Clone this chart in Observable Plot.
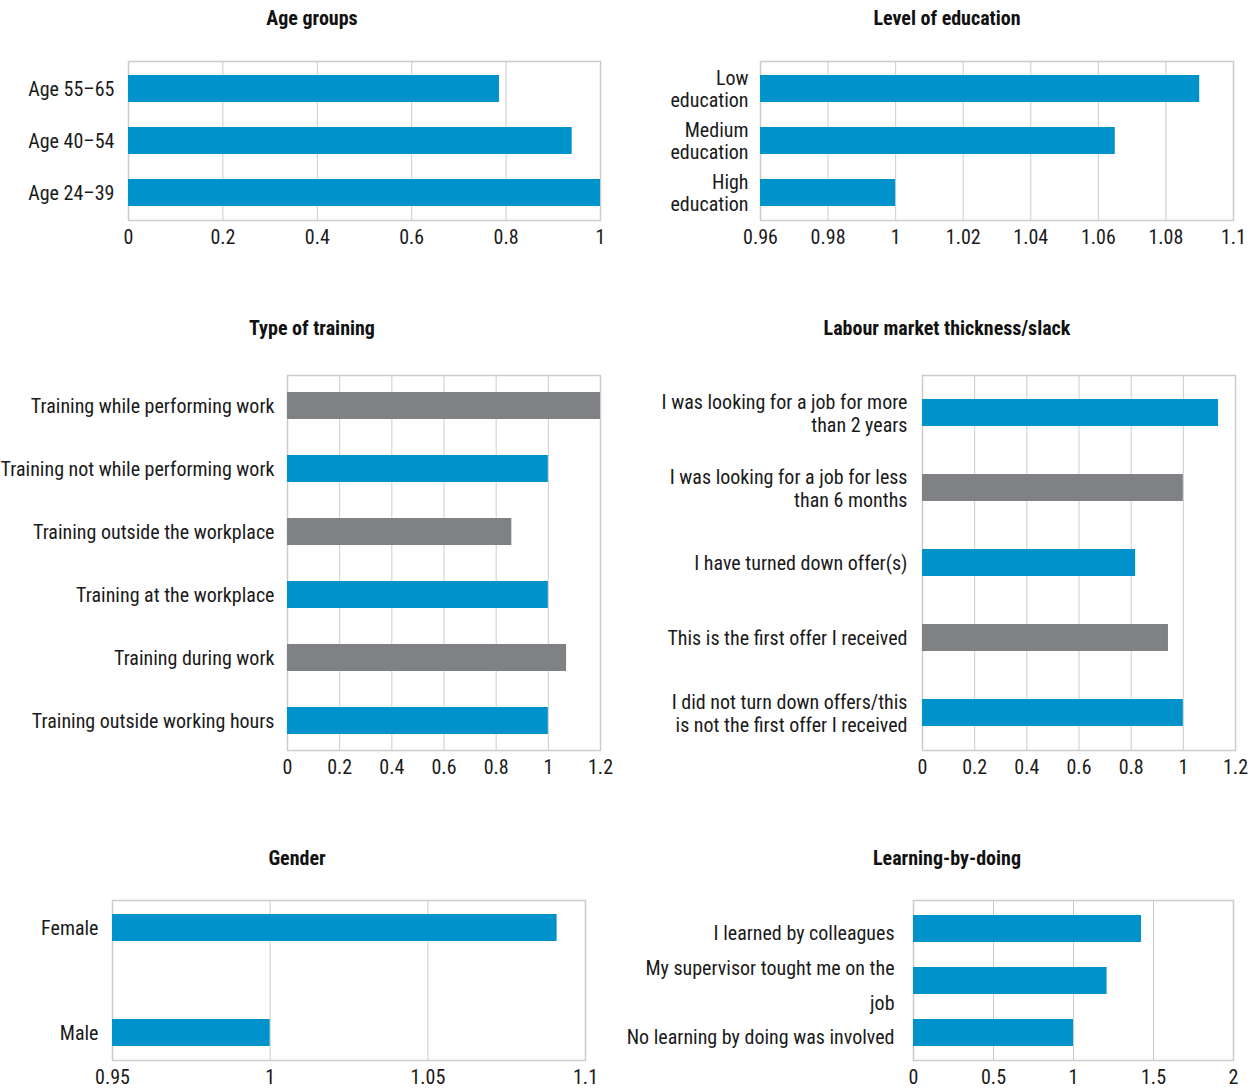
<!DOCTYPE html>
<html><head><meta charset="utf-8">
<script src="https://cdn.jsdelivr.net/npm/d3@7"></script>
<script src="https://cdn.jsdelivr.net/npm/@observablehq/plot@0.6"></script>
<style>
body{margin:0;background:#fff;}
#root{position:relative;width:1260px;height:1088px;overflow:hidden;font-family:'Roboto Condensed',Roboto,sans-serif;font-stretch:condensed;}
.title{position:absolute;font-weight:bold;font-size:20px;line-height:24px;white-space:nowrap;transform:translateX(-50%);color:#111;}
.panel{position:absolute;}
.panel svg{font-stretch:condensed;overflow:visible;}
</style></head><body><div id="root"></div>
<script>
// ---- Data ----
const ageLabels = ["Age 55–65", "Age 40–54", "Age 24–39"];
const ageValues = [0.786, 0.94, 1.0];
const ageTicks = [0, 0.2, 0.4, 0.6, 0.8, 1];

const eduLabels = ["Low\neducation", "Medium\neducation", "High\neducation"];
const eduValues = [1.09, 1.065, 1.0];
const eduTicks = [0.96, 0.98, 1, 1.02, 1.04, 1.06, 1.08, 1.1];

const trainLabels = ["Training while performing work", "Training not while performing work", "Training outside the workplace", "Training at the workplace", "Training during work", "Training outside working hours"];
const trainValues = [1.2, 1.0, 0.86, 1.0, 1.07, 1.0];
const trainTicks = [0, 0.2, 0.4, 0.6, 0.8, 1, 1.2];

const labourLabels = ["I was looking for a job for more\nthan 2 years", "I was looking for a job for less\nthan 6 months", "I have turned down offer(s)", "This is the first offer I received", "I did not turn down offers/this\nis not the first offer I received"];
const labourValues = [1.135, 1.0, 0.817, 0.943, 1.0];
const labourTicks = [0, 0.2, 0.4, 0.6, 0.8, 1, 1.2];

const genderLabels = ["Female", "Male"];
const genderValues = [1.091, 1.0];
const genderTicks = [0.95, 1, 1.05, 1.1];

const learnLabels = ["I learned by colleagues", "My supervisor tought me on the\njob", "No learning by doing was involved"];
const learnValues = [1.425, 1.21, 1.0];
const learnTicks = [0, 0.5, 1, 1.5, 2];

// ---- Styling ----
const BLUE = "#0092CB", GRAY = "#808185", GRID = "#cccccc";
const FONT = "'Roboto Condensed',Roboto,sans-serif";
const root = document.getElementById("root");

function title(text, cx, cy) {
  const d = document.createElement("div");
  d.className = "title"; d.textContent = text;
  d.style.left = cx + "px"; d.style.top = (cy - 12) + "px";
  root.appendChild(d);
}

function panel(o) {
  const [fx0, fx1, fy0, fy1] = o.frame;
  const data = o.labels.map((label, i) => ({label, value: o.values[i], i}));
  const lo = o.ticks[0];
  const chart = Plot.plot({
    width: o.width, height: o.height,
    marginLeft: fx0 - o.left, marginRight: o.left + o.width - fx1,
    marginTop: fy0 - o.top, marginBottom: o.top + o.height - fy1,
    style: {fontFamily: FONT, fontSize: "20px", color: "#1a1a1a", background: "transparent"},
    x: {domain: [o.ticks[0], o.ticks[o.ticks.length - 1]]},
    y: {domain: o.labels, paddingInner: o.pi, paddingOuter: o.po},
    color: {type: "identity"},
    marks: [
      Plot.gridX(o.ticks, {stroke: GRID, strokeOpacity: 1}),
      Plot.frame({stroke: GRID, strokeWidth: 1.5}),
      Plot.barX(data, {y: "label", x1: () => lo, x2: "value", fill: d => o.color(d.i)}),
      Plot.axisX(o.ticks, {tickSize: 0, tickPadding: 9, label: null, tickFormat: d => String(d)}),
      Plot.axisY({tickSize: 0, tickPadding: o.padY, label: null, lineHeight: o.lineHeight || 1.1})
    ]
  });
  const wrap = document.createElement("div");
  wrap.className = "panel";
  wrap.style.left = o.left + "px"; wrap.style.top = o.top + "px";
  wrap.appendChild(chart);
  root.appendChild(wrap);
}

const allBlue = () => BLUE;
const grayFirst = i => i % 2 === 0 ? GRAY : BLUE;
const blueFirst = i => i % 2 === 0 ? BLUE : GRAY;

title("Age groups", 312, 18);
panel({labels: ageLabels, values: ageValues, ticks: ageTicks, left: 0, top: 40, width: 630, height: 220,
  frame: [128, 600, 61, 220], pi: 0.486, po: 0.26, padY: 14, color: allBlue});

title("Level of education", 947, 18);
panel({labels: eduLabels, values: eduValues, ticks: eduTicks, left: 630, top: 40, width: 630, height: 220,
  frame: [760, 1233, 61, 220], pi: 0.486, po: 0.26, padY: 12, lineHeight: 1.08, color: allBlue});

title("Type of training", 312, 328);
panel({labels: trainLabels, values: trainValues, ticks: trainTicks, left: 0, top: 350, width: 630, height: 440,
  frame: [287, 600, 375, 750], pi: 0.575, po: 0.236, padY: 13, color: grayFirst});

title("Labour market thickness/slack", 947, 328);
panel({labels: labourLabels, values: labourValues, ticks: labourTicks, left: 630, top: 350, width: 630, height: 440,
  frame: [922, 1235, 375, 750], pi: 0.642, po: 0.30, padY: 15, lineHeight: 1.15, color: blueFirst});

title("Gender", 297, 858);
panel({labels: genderLabels, values: genderValues, ticks: genderTicks, left: 0, top: 880, width: 630, height: 208,
  frame: [112, 585, 900, 1060], pi: 0.743, po: 0.133, padY: 14, color: allBlue});

title("Learning-by-doing", 947, 858);
panel({labels: learnLabels, values: learnValues, ticks: learnTicks, left: 630, top: 880, width: 630, height: 208,
  frame: [913, 1233, 900, 1060], pi: 0.486, po: 0.26, padY: 19, lineHeight: 1.75, color: allBlue});
</script></body></html>
